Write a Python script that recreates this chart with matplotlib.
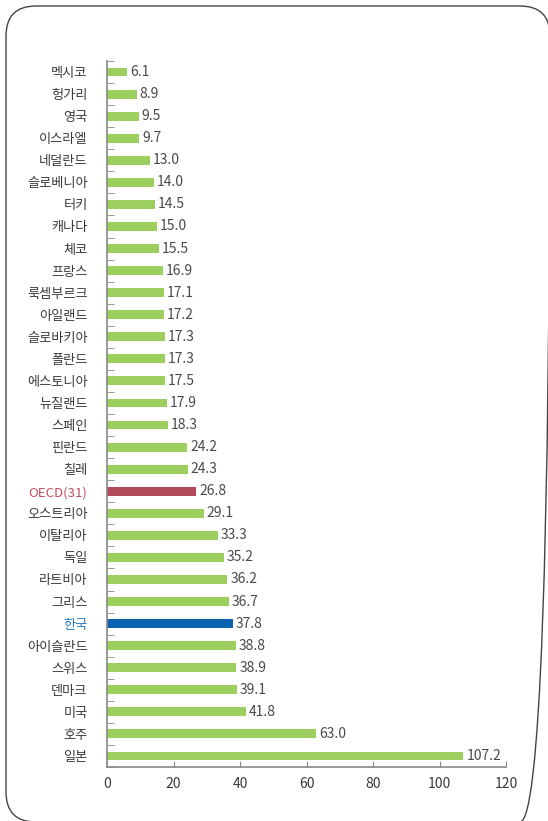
import matplotlib

matplotlib.use("Agg")
import matplotlib.pyplot as plt  # noqa: E402
import numpy as np  # noqa: E402
from matplotlib.patches import FancyBboxPatch  # noqa: E402

plt.rcParams["font.family"] = ["Noto Sans CJK KR", "DejaVu Sans"]

countries = ["멕시코", "헝가리", "영국", "이스라엘", "네덜란드", "슬로베니아", "터키", "캐나다",
             "체코", "프랑스", "룩셈부르크", "아일랜드", "슬로바키아", "폴란드", "에스토니아",
             "뉴질랜드", "스페인", "핀란드", "칠레", "OECD(31)", "오스트리아", "이탈리아", "독일",
             "라트비아", "그리스", "한국", "아이슬란드", "스위스", "덴마크", "미국", "호주", "일본"]
values = [6.1, 8.9, 9.5, 9.7, 13.0, 14.0, 14.5, 15.0, 15.5, 16.9, 17.1, 17.2, 17.3, 17.3, 17.5,
          17.9, 18.3, 24.2, 24.3, 26.8, 29.1, 33.3, 35.2, 36.2, 36.7, 37.8, 38.8, 38.9, 39.1,
          41.8, 63.0, 107.2]
x_ticks = [0, 20, 40, 60, 80, 100, 120]

GREEN, RED, BLUE = "#9dcf5f", "#b34a5c", "#0a62b0"
TEXT = "#3a3a3a"

fig = plt.figure(figsize=(5.48, 8.21), dpi=100)

# background frame drawn in pixel units
bg = fig.add_axes([0, 0, 1, 1], zorder=-1)
bg.set_xlim(0, 548)
bg.set_ylim(821, 0)
bg.axis("off")
bg.add_patch(FancyBboxPatch((6, 6), 544, 816, boxstyle="round,pad=0,rounding_size=30",
                            fill=False, edgecolor="#444444", linewidth=1.0, clip_on=False))

ax = fig.add_axes([107 / 548, 1 - 767 / 821, 399 / 548, 706 / 821])

colors = [RED if c.startswith("OECD") else BLUE if c == "한국" else GREEN for c in countries]
y = np.arange(len(countries))
ax.barh(y, values, height=0.4, color=colors)
for yi, v in zip(y, values):
    ax.text(v + 0.9, yi, f"{v:.1f}", va="center", ha="left", fontsize=10, color="#4a4a4a")

ax.set_ylim(len(countries) - 0.5, -0.5)
ax.set_xlim(0, 120)
ax.set_yticks(y)
ax.set_yticklabels(countries, fontsize=9.5)
for lbl, c in zip(ax.get_yticklabels(), countries):
    lbl.set_color("#c24d5e" if c.startswith("OECD") else "#2a7cc4" if c == "한국" else TEXT)
ax.tick_params(axis="y", length=0, pad=14)
ax.set_yticks(np.arange(len(countries) + 1) - 0.5, minor=True)
ax.tick_params(axis="y", which="minor", length=5, direction="in", color="#888888")
ax.set_xticks(x_ticks)
ax.tick_params(axis="x", length=4, direction="in", color="#888888", labelsize=10,
               labelcolor=TEXT, pad=7)
ax.patch.set_alpha(0)
for s in ["top", "right"]:
    ax.spines[s].set_visible(False)
for s in ["left", "bottom"]:
    ax.spines[s].set_color("#888888")
    ax.spines[s].set_linewidth(1.2)

fig.savefig("out.png", dpi=100)
